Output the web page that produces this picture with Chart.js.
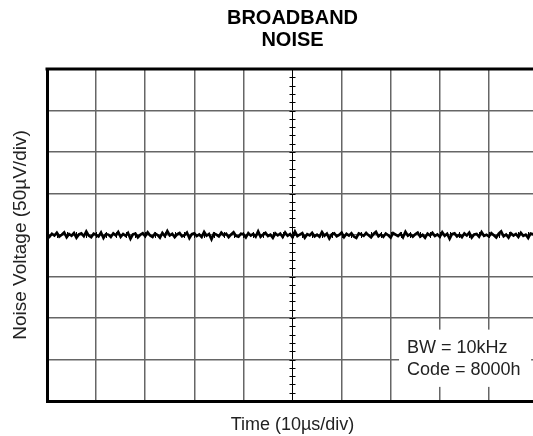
<!DOCTYPE html>
<html>
<head>
<meta charset="utf-8">
<script src="https://cdn.jsdelivr.net/npm/chart.js@4/dist/chart.umd.min.js"></script>
<style>
  html, body { margin: 0; padding: 0; background: #fff; overflow: hidden; }
  #wrap { width: 540px; height: 436px; }
</style>
</head>
<body>
<div id="wrap"><canvas id="noiseChart" width="540" height="436"></canvas></div>
<script>
// axis ranges: 10 divisions of 10us, 8 divisions of 50uV
const timeRangeUs = [0, 100];
const voltRangeUv = [-200, 200];
const sampleStepUs = 0.5;

// noise trace, in uV
const noiseUv = [
  0.8, -2.1, 1.5, -0.6, 2.7, -1.9, 0.4, 3.1, -2.8, 1.2,
  -0.9, 2.3, -3.4, 0.7, 1.9, -1.5, 4.2, -0.8, -2.6, 1.6,
  0.2, -1.8, 2.9, -3.7, 1.1, 0.5, -2.3, 2.0, -0.4, 3.6,
  -2.2, 1.3, -1.0, 2.5, -4.5, 0.9, 1.7, -2.9, 0.3, 2.2,
  -1.4, 3.3, -0.7, -2.5, 1.8, 0.1, -3.2, 2.6, -1.2, 4.8,
  -0.6, 1.4, -2.7, 0.8, 2.4, -1.6, -0.2, 3.0, -3.9, 1.0,
  2.1, -1.3, 0.6, -2.4, 3.7, -0.9, 1.2, -5.1, 1.9, 0.4,
  -1.7, 2.8, -0.3, 1.6, -2.6, 0.7, 3.4, -1.1, -2.2, 1.5,
  0.9, -3.0, 2.2, -0.8, 1.3, -1.9, 4.4, -2.1, 0.5, 2.7,
  -1.2, 0.3, -3.5, 2.0, -0.5, 1.8, -2.4, 3.2, -0.9, 1.1,
  -2.8, 4.1, -1.4, 0.6, 2.3, -3.3, 1.0, -0.6, 2.6, -1.7,
  0.4, -2.0, 3.5, -1.0, 1.7, -4.2, 0.8, 2.1, -1.5, 0.2,
  3.0, -2.5, 1.4, -0.7, 2.2, -1.8, -3.6, 1.9, 0.6, -1.1,
  2.5, -0.4, -2.9, 1.3, 3.8, -1.6, 0.7, -2.2, 1.8, -0.3,
  -3.1, 2.4, 0.5, -1.4, 1.6, -2.7, 4.0, -0.8, 1.1, -2.0,
  0.9, 2.9, -1.9, 0.2, -3.4, 1.7, -0.5, 2.6, -1.3, 0.8,
  -2.3, 3.3, -0.9, 1.5, -4.6, 1.2, 2.0, -1.7, 0.4, -2.6,
  1.9, -0.6, 2.8, -3.0, 0.7, 1.4, -2.1, 3.5, -1.0, 0.3,
  -1.8, 2.2, -0.2, -2.9, 1.6, 4.3, -1.5, 0.6, -3.3, 2.0,
  -0.7, 1.3, -2.4, 2.7, -1.1, 0.5, -3.7, 1.8, 0.9, -1.6,
  1.0
];

const titleLines = ['BROADBAND', 'NOISE'];
const xTitle = 'Time (10µs/div)';
const yTitle = 'Noise Voltage (50µV/div)';
const noteLines = ['BW = 10kHz', 'Code = 8000h'];

const FONT = '"Liberation Sans", Arial, Helvetica, sans-serif';

// top edge of the frame (bottom/left come from the axis borders)
const frameTop = {
  id: 'frameTop',
  afterDraw(chart) {
    const { ctx, chartArea: a } = chart;
    ctx.save();
    ctx.strokeStyle = '#000';
    ctx.lineWidth = 3;
    ctx.beginPath();
    ctx.moveTo(a.left - 1.5, a.top);
    ctx.lineTo(a.right, a.top);
    ctx.stroke();
    ctx.restore();
  }
};

// small division marks on the centre cross
const centerTicks = {
  id: 'centerTicks',
  beforeDatasetsDraw(chart) {
    const { ctx, scales: { x, y } } = chart;
    const cx = x.getPixelForValue(50);
    const cy = y.getPixelForValue(0);
    ctx.save();
    ctx.strokeStyle = '#000';
    ctx.lineWidth = 1;
    ctx.beginPath();
    for (let v = voltRangeUv[0] + 10; v < voltRangeUv[1]; v += 10) {
      const py = Math.round(y.getPixelForValue(v)) + 0.5;
      ctx.moveTo(cx - 3, py);
      ctx.lineTo(cx + 3, py);
    }
    for (let t = timeRangeUs[0] + 2; t < timeRangeUs[1]; t += 2) {
      const px = Math.round(x.getPixelForValue(t)) + 0.5;
      ctx.moveTo(px, cy - 3);
      ctx.lineTo(px, cy + 3);
    }
    ctx.stroke();
    ctx.restore();
  }
};

// "BW = 10kHz / Code = 8000h" label box
const noteBox = {
  id: 'noteBox',
  afterDatasetsDraw(chart) {
    const { ctx, scales: { x, y } } = chart;
    const x0 = x.getPixelForValue(71.7), x1 = x.getPixelForValue(98.6);
    const y0 = y.getPixelForValue(-114), y1 = y.getPixelForValue(-183);
    ctx.save();
    ctx.fillStyle = '#fff';
    ctx.fillRect(x0, y0, x1 - x0, y1 - y0);
    ctx.fillStyle = '#222';
    ctx.font = '18px ' + FONT;
    ctx.textBaseline = 'middle';
    ctx.textAlign = 'left';
    const tx = x.getPixelForValue(73.3);
    ctx.fillText(noteLines[0], tx, y.getPixelForValue(-136));
    ctx.fillText(noteLines[1], tx, y.getPixelForValue(-163));
    ctx.restore();
  }
};

const gridColor = c => (c.tick && c.tick.value === 50 ? '#000' : '#666');
const gridWidth = c => (c.tick && c.tick.value === 50 ? 1 : 1.5);

new Chart(document.getElementById('noiseChart').getContext('2d'), {
  type: 'line',
  data: {
    datasets: [{
      data: noiseUv.map((v, i) => ({ x: i * sampleStepUs, y: v })),
      borderColor: '#000',
      borderWidth: 2.6,
      pointRadius: 0,
      tension: 0
    }]
  },
  options: {
    responsive: false,
    animation: false,
    layout: { padding: { left: 0, right: 2, top: 0, bottom: 0 } },
    plugins: {
      legend: { display: false },
      tooltip: { enabled: false },
      title: {
        display: true,
        text: titleLines,
        fullSize: false,
        color: '#000',
        font: { family: FONT, size: 20, weight: 'bold', lineHeight: 1.1 },
        padding: { top: 7, bottom: 18 }
      }
    },
    scales: {
      x: {
        type: 'linear',
        min: timeRangeUs[0],
        max: timeRangeUs[1],
        ticks: { display: false, stepSize: 10 },
        grid: { color: gridColor, lineWidth: gridWidth, drawTicks: false },
        border: { display: true, color: '#000', width: 3 },
        title: {
          display: true,
          text: xTitle,
          color: '#222',
          font: { family: FONT, size: 18, lineHeight: 1.2 },
          padding: { top: 13.2, bottom: 0.2 }
        }
      },
      y: {
        min: voltRangeUv[0],
        max: voltRangeUv[1],
        ticks: { display: false, stepSize: 50 },
        grid: { color: '#666', lineWidth: 1.5, drawTicks: false },
        border: { display: true, color: '#000', width: 3 },
        title: {
          display: true,
          text: yTitle,
          color: '#222',
          font: { family: FONT, size: 19, lineHeight: 1.2 },
          padding: { top: 9.1, bottom: 15.1 }
        }
      }
    }
  },
  plugins: [centerTicks, noteBox, frameTop]
});
</script>
</body>
</html>
